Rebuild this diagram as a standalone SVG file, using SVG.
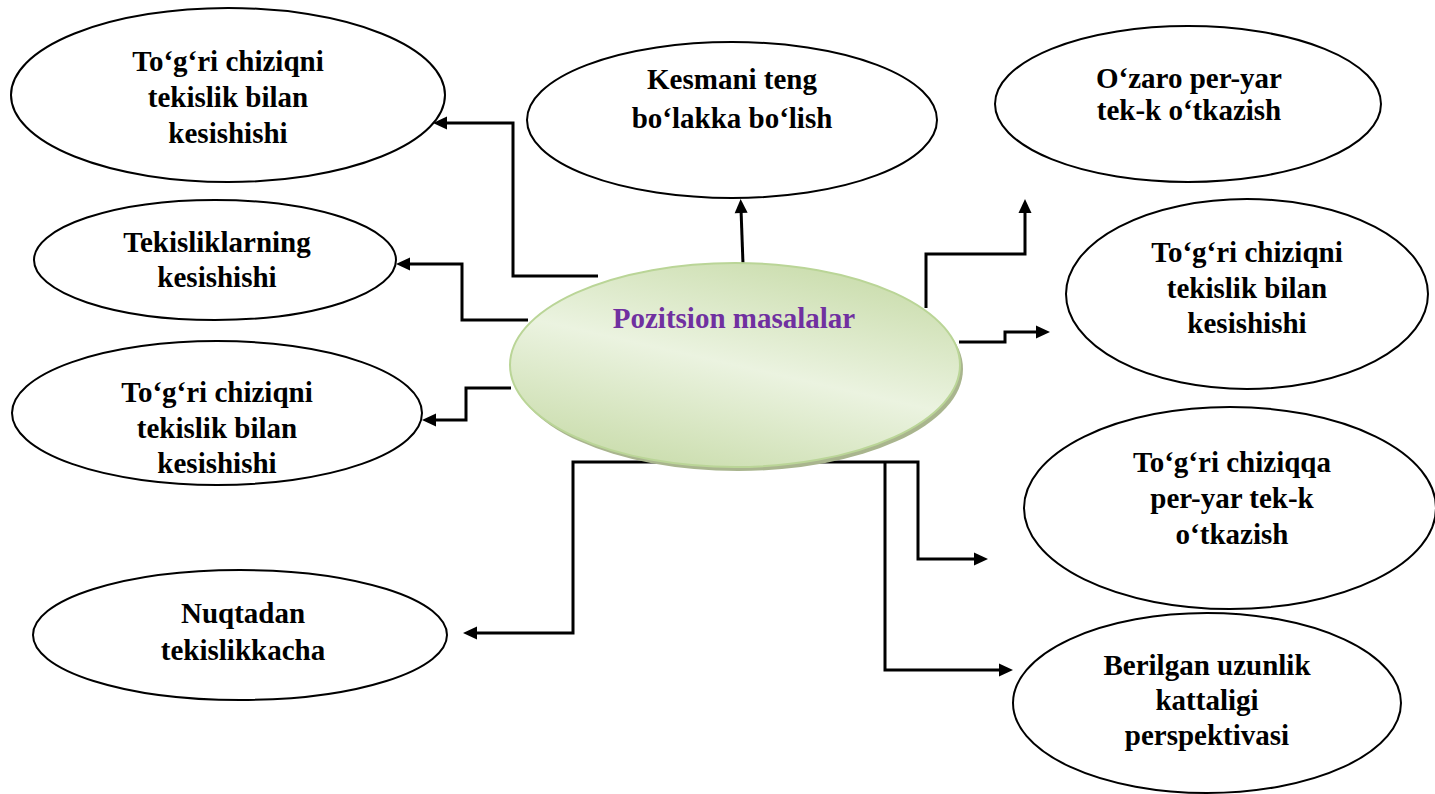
<svg xmlns="http://www.w3.org/2000/svg" width="1435" height="794" viewBox="0 0 1435 794">
<style>
.n{fill:#fff;stroke:#000;stroke-width:2}
.t{font-family:"Liberation Serif","Times New Roman",Times,serif;font-weight:bold;font-size:29px;fill:#000;text-anchor:middle}
.c{fill:none;stroke:#000;stroke-width:3;marker-end:url(#ah)}
</style>
<defs>
<marker id="ah" markerUnits="userSpaceOnUse" markerWidth="16" markerHeight="14" refX="4" refY="6.5" orient="auto" overflow="visible">
<path d="M0,0 L14,6.5 L0,13 z" fill="#000"/>
</marker>
<linearGradient id="g" x1="0.25" y1="1" x2="0.75" y2="0">
<stop offset="0" stop-color="#c9dcab"/>
<stop offset="0.5" stop-color="#ebf3e0"/>
<stop offset="1" stop-color="#c9dcab"/>
</linearGradient>
</defs>
<rect width="1435" height="794" fill="#fff"/>

<g id="connectors">
<path class="c" d="M598,276 H513 V123 H443"/>
<path class="c" d="M528,320 H462 V264 H406"/>
<path class="c" d="M511,388 H466 V420 H432"/>
<path class="c" d="M684,462 H573 V633 H473"/>
<path class="c" d="M743,264 L741,209"/>
<path class="c" d="M926,308 V254 H1025 V209"/>
<path class="c" d="M959,342 H1005 V332 H1040"/>
<path class="c" d="M756,462 H918 V559 H978"/>
<path class="c" d="M885,462 V670 H1003"/>
</g>

<g id="n-top-left">
<ellipse class="n" cx="228" cy="95" rx="217" ry="87"/>
<text class="t" x="228" y="71">To‘g‘ri chiziqni</text>
<text class="t" x="228" y="107">tekislik bilan</text>
<text class="t" x="228" y="143">kesishishi</text>
</g>

<g id="n-kesmani">
<ellipse class="n" cx="732" cy="120" rx="205" ry="78"/>
<text class="t" x="732" y="89">Kesmani teng</text>
<text class="t" x="732" y="128">bo‘lakka bo‘lish</text>
</g>

<g id="n-ozaro">
<ellipse class="n" cx="1188" cy="104" rx="193" ry="78"/>
<text class="t" x="1189" y="88">O‘zaro per-yar</text>
<text class="t" x="1189" y="120">tek-k o‘tkazish</text>
</g>

<g id="n-tekisliklarning">
<ellipse class="n" cx="215" cy="260" rx="181" ry="60"/>
<text class="t" x="217" y="252">Tekisliklarning</text>
<text class="t" x="217" y="287">kesishishi</text>
</g>

<g id="n-right-togri">
<ellipse class="n" cx="1247" cy="294" rx="181" ry="95"/>
<text class="t" x="1247" y="262">To‘g‘ri chiziqni</text>
<text class="t" x="1247" y="298">tekislik bilan</text>
<text class="t" x="1247" y="333">kesishishi</text>
</g>

<g id="n-left-togri">
<ellipse class="n" cx="217" cy="413" rx="205" ry="72"/>
<text class="t" x="217" y="402">To‘g‘ri chiziqni</text>
<text class="t" x="217" y="438">tekislik bilan</text>
<text class="t" x="217" y="473">kesishishi</text>
</g>

<g id="n-chiziqqa">
<ellipse class="n" cx="1230" cy="508" rx="206" ry="101"/>
<text class="t" x="1232" y="472">To‘g‘ri chiziqqa</text>
<text class="t" x="1232" y="508">per-yar tek-k</text>
<text class="t" x="1232" y="544">o‘tkazish</text>
</g>

<g id="n-nuqtadan">
<ellipse class="n" cx="240" cy="635" rx="207" ry="65"/>
<text class="t" x="243" y="623">Nuqtadan</text>
<text class="t" x="243" y="660">tekislikkacha</text>
</g>

<g id="n-berilgan">
<ellipse class="n" cx="1207" cy="703" rx="194" ry="90"/>
<text class="t" x="1207" y="675">Berilgan uzunlik</text>
<text class="t" x="1207" y="710">kattaligi</text>
<text class="t" x="1207" y="745">perspektivasi</text>
</g>

<g id="n-center">
<ellipse cx="738" cy="369" rx="225" ry="102" fill="#a9b58e"/>
<ellipse cx="735" cy="365" rx="225" ry="102" fill="url(#g)" stroke="#bad597" stroke-width="2"/>
<text class="t" x="734" y="328" style="fill:#7030a0">Pozitsion masalalar</text>
</g>
</svg>
